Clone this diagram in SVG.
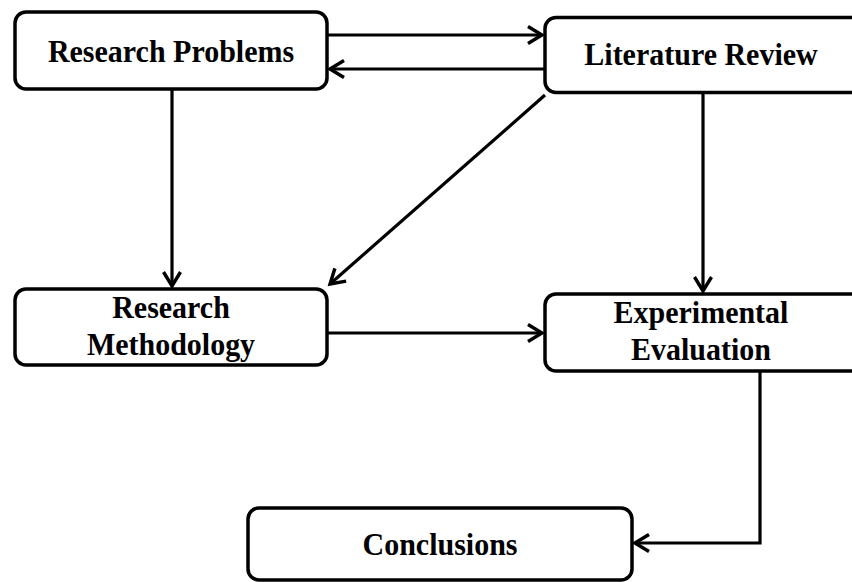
<svg xmlns="http://www.w3.org/2000/svg" width="852" height="582" viewBox="0 0 852 582">
  <style>
    .box { fill: #ffffff; stroke: #000000; stroke-width: 3.5; }
    .lbl { font-family: "Liberation Serif", "Times New Roman", serif; font-weight: bold; font-size: 30px; fill: #000000; text-anchor: middle; }
    .link { fill: none; stroke: #000000; stroke-width: 3.2; }
  </style>
  <defs>
    <marker id="arrow" markerUnits="userSpaceOnUse" markerWidth="22" markerHeight="22" viewBox="-17 -11 19 22" refX="0" refY="0" orient="auto">
      <path d="M-14,-8.5 L0,0 L-14,8.5" fill="none" stroke="#000000" stroke-width="3.4" stroke-linejoin="miter"/>
    </marker>
  </defs>
  <rect width="852" height="582" fill="#ffffff"/>

  <g id="connectors">
    <line class="link" x1="327" y1="35" x2="542" y2="35" marker-end="url(#arrow)"/>
    <line class="link" x1="545" y1="69" x2="330" y2="69" marker-end="url(#arrow)"/>
    <line class="link" x1="172" y1="89" x2="172" y2="286" marker-end="url(#arrow)"/>
    <line class="link" x1="545" y1="95" x2="330" y2="284" marker-end="url(#arrow)"/>
    <line class="link" x1="703" y1="92" x2="703" y2="291" marker-end="url(#arrow)"/>
    <line class="link" x1="327" y1="333" x2="542" y2="333" marker-end="url(#arrow)"/>
    <path class="link" d="M760,371 V543 H635" marker-end="url(#arrow)"/>
  </g>

  <!-- labels are stretched slightly upright to follow the tall bold face -->
  <g id="research-problems">
    <rect class="box" x="15" y="12" width="312" height="77" rx="11"/>
    <text class="lbl" transform="translate(171,62) scale(1,1.07)">Research Problems</text>
  </g>

  <g id="literature-review">
    <rect class="box" x="545" y="17.5" width="320" height="75" rx="11"/>
    <text class="lbl" transform="translate(701,65) scale(1,1.07)">Literature Review</text>
  </g>

  <g id="research-methodology">
    <rect class="box" x="15" y="289" width="312" height="76" rx="11"/>
    <text class="lbl" transform="translate(171,318) scale(1,1.07)">Research</text>
    <text class="lbl" transform="translate(171,355) scale(1,1.07)">Methodology</text>
  </g>

  <g id="experimental-evaluation">
    <rect class="box" x="545" y="294" width="320" height="77" rx="11"/>
    <text class="lbl" transform="translate(701,323) scale(1,1.07)">Experimental</text>
    <text class="lbl" transform="translate(701,360) scale(1,1.07)">Evaluation</text>
  </g>

  <g id="conclusions">
    <rect class="box" x="248" y="508" width="384" height="72" rx="11"/>
    <text class="lbl" transform="translate(440,555) scale(1,1.07)">Conclusions</text>
  </g>
</svg>
